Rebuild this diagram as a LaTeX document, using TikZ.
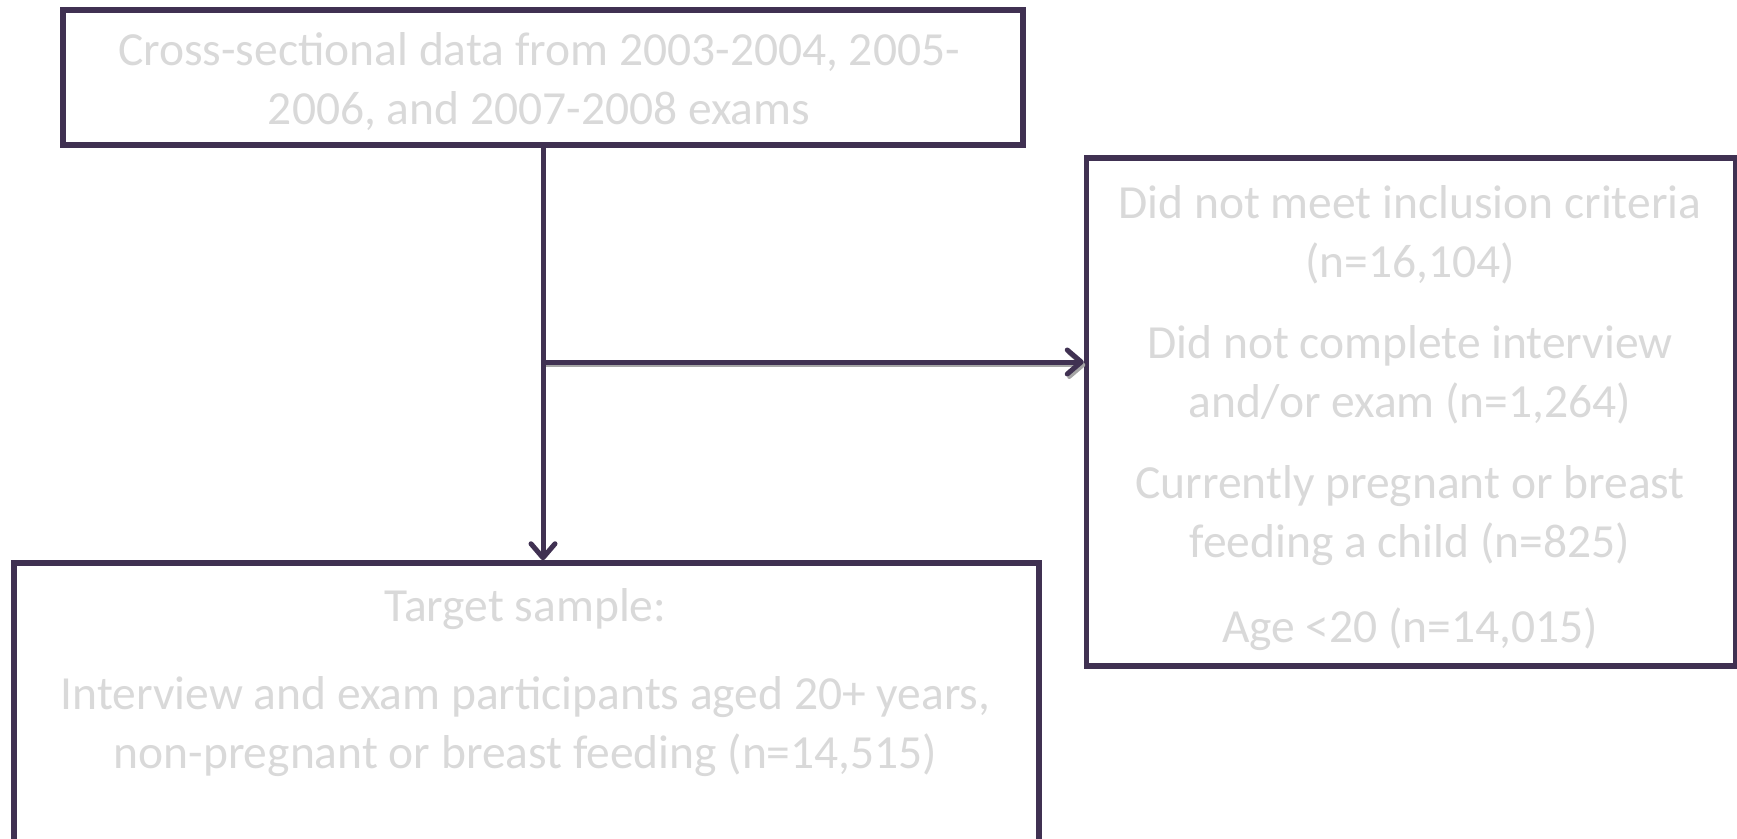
\documentclass[tikz,border=0pt]{standalone}
\usepackage{fontspec}
\setmainfont{Carlito}
\usetikzlibrary{arrows.meta}
\definecolor{boxline}{RGB}{64,49,82}
\definecolor{boxtext}{RGB}{217,217,217}
\begin{document}
\begin{tikzpicture}[x=1pt,y=-1pt,
  flowbox/.style={draw=boxline, line width=5.5pt, fill=white, rectangle, inner sep=0pt},
  flowtext/.style={text=boxtext, align=center, inner sep=0pt, font=\fontsize{47.5}{59}\selectfont},
  flowarrow/.style={draw=boxline, line width=5pt, -{Straight Barb[length=14pt,width=24pt,line cap=round,line join=round]}},
  shadowarrow/.style={draw=gray!70, line width=4pt, -{Straight Barb[length=14pt,width=24pt,line cap=round,line join=round]}}
]
\useasboundingbox (0,0) rectangle (1737,838);
\clip (0,0) rectangle (1737,838);
% boxes
\node[flowbox, minimum width=960pt, minimum height=135pt] (top) at (543,77.5) {};
\node[flowbox, minimum width=649pt, minimum height=508pt] (excl) at (1411,412) {};
\node[flowbox, minimum width=1025pt, minimum height=400pt] (target) at (526.5,763) {};
% texts
\node[flowtext] (toptext) at (539,81.5) {Cross-sectional data from 2003-2004, 2005-\\2006, and 2007-2008 exams};
\node[flowtext] (ex1) at (1410,235) {Did not meet inclusion criteria\\(n=16,104)};
\node[flowtext] (ex2) at (1410,375) {Did not complete interview\\and/or exam (n=1,264)};
\node[flowtext] (ex3) at (1410,516) {Currently pregnant or breast\\feeding a child (n=825)};
\node[flowtext] (ex4) at (1410,629) {Age <20 (n=14,015)};
\node[flowtext] (tg1) at (525.5,609) {Target sample:};
\node[flowtext] (tg2) at (525.5,726.5) {Interview and exam participants aged 20+ years,\\non-pregnant or breast feeding (n=14,515)};
% connectors
\coordinate (j) at (top.south |- 0,362);
\draw[shadowarrow, transform canvas={shift={(1.5pt,-3pt)}}] (j) -- (j -| excl.west);
\draw[flowarrow] (top.south) -- (top.south |- target.north);
\draw[flowarrow] (j) -- (j -| excl.west);
\end{tikzpicture}
\end{document}
